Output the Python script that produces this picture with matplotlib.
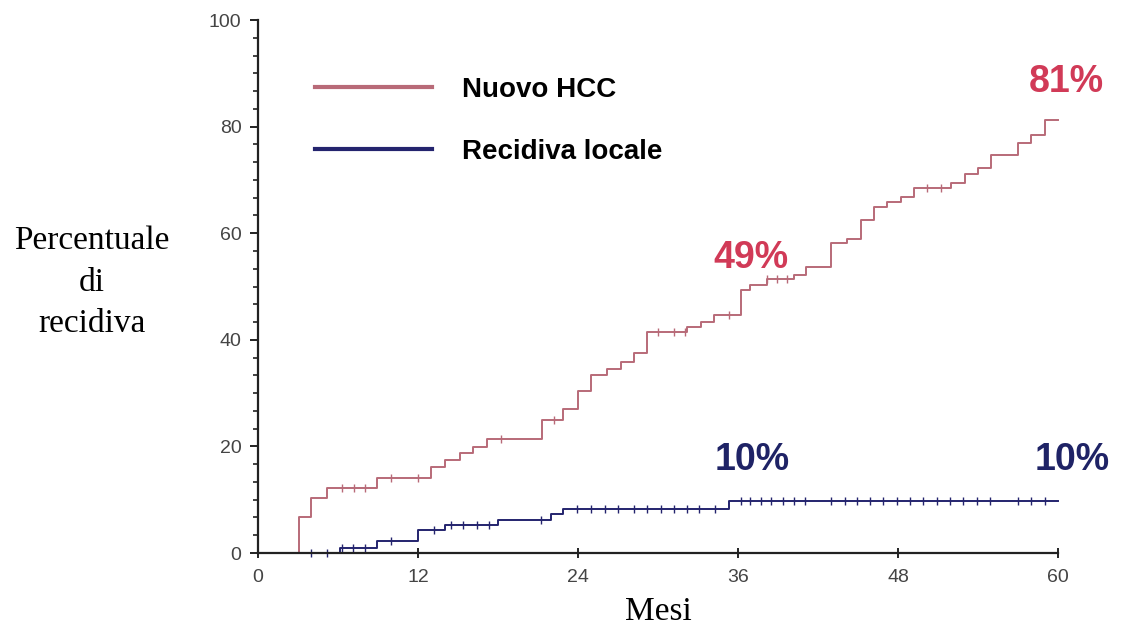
import numpy as np
import matplotlib
matplotlib.use("Agg")
import matplotlib.pyplot as plt
from matplotlib.lines import Line2D
from matplotlib.ticker import AutoMinorLocator

# ----- data (months, cumulative %) -----
nuovo_t = [0, 3.1, 4.0, 5.15, 8.9, 13.0, 14.0, 15.15, 16.15, 17.15, 21.3, 22.9,
           24.0, 25.0, 26.2, 27.2, 28.2, 29.2, 32.2, 33.2, 34.2, 36.2, 36.9,
           38.2, 40.2, 41.1, 43.0, 44.2, 45.2, 46.2, 47.2, 48.2, 49.2, 52.0,
           53.0, 54.0, 55.0, 57.0, 58.0, 59.0, 60.0]
nuovo_v = [0, 6.8, 10.3, 12.2, 14.0, 16.2, 17.4, 18.7, 19.9, 21.3, 25.0, 27.0,
           30.4, 33.4, 34.6, 35.9, 37.5, 41.5, 42.5, 43.4, 44.7, 49.3, 50.3,
           51.5, 52.2, 53.7, 58.1, 59.0, 62.5, 65.0, 65.9, 66.8, 68.4, 69.4,
           71.2, 72.2, 74.7, 76.9, 78.4, 81.2, 81.2]
nuovo_cens = [6.3, 7.2, 8.0, 10.0, 12.0, 18.2, 22.2, 30.0, 31.2, 32.0, 35.3,
              38.2, 38.9, 39.7, 50.2, 51.2]

locale_t = [0, 6.15, 8.9, 12.0, 14.0, 18.0, 22.0, 22.9, 35.3, 60.0]
locale_v = [0, 1.0, 2.25, 4.3, 5.25, 6.2, 7.4, 8.3, 9.8, 9.8]
locale_cens = [4.0, 5.15, 6.3, 7.15, 8.0, 10.0, 13.2, 14.5, 15.4, 16.4, 17.3,
               21.2, 23.9, 25.0, 26.0, 27.0, 28.2, 29.2, 30.2, 31.2, 32.2,
               33.1, 34.3, 36.2, 36.9, 37.7, 38.5, 39.4, 40.2, 41.0, 43.0,
               44.0, 44.9, 45.9, 46.9, 47.9, 48.9, 49.9, 50.9, 51.9, 52.9,
               53.9, 54.9, 57.0, 58.0, 59.0]

x_ticks = [0, 12, 24, 36, 48, 60]
y_ticks = [0, 20, 40, 60, 80, 100]

RED = "#b86a78"
BLUE = "#24246e"
RED_TXT = "#d13a57"
BLUE_TXT = "#1f2366"


def level_at(times, values, t):
    # value of a post-step curve at time t
    idx = np.searchsorted(times, t, side="right") - 1
    return np.asarray(values)[idx]


fig = plt.figure(figsize=(11.21, 6.27), dpi=100)
ax = fig.add_axes([0.2302, 0.118, 0.7136, 0.850])

ax.step(nuovo_t, nuovo_v, where="post", color=RED, lw=1.4, clip_on=False)
ax.step(locale_t, locale_v, where="post", color=BLUE, lw=1.4, clip_on=False)

# censoring marks
ax.plot(nuovo_cens, level_at(nuovo_t, nuovo_v, nuovo_cens), ls="none",
        marker="|", ms=6, mew=1.0, color=RED, clip_on=False)
ax.plot(locale_cens, level_at(locale_t, locale_v, locale_cens), ls="none",
        marker="|", ms=6, mew=1.0, color=BLUE, clip_on=False)

# percentage labels
pct_font = dict(fontsize=27, ha="center", va="baseline",
                family="Liberation Sans", weight="bold")
ax.text(37.0, 53.4, "49%", color=RED_TXT, **pct_font)
ax.text(60.6, 86.5, "81%", color=RED_TXT, **pct_font)
ax.text(37.1, 15.6, "10%", color=BLUE_TXT, **pct_font)
ax.text(61.1, 15.6, "10%", color=BLUE_TXT, **pct_font)

# axes styling
ax.set_xlim(0, 60)
ax.set_ylim(0, 100)
ax.set_xticks(x_ticks)
ax.set_yticks(y_ticks)
ax.yaxis.set_minor_locator(AutoMinorLocator(6))
for s in ["top", "right"]:
    ax.spines[s].set_visible(False)
for s in ["left", "bottom"]:
    ax.spines[s].set_linewidth(1.6)
    ax.spines[s].set_color("#222222")
ax.tick_params(axis="y", which="major", direction="out", length=6, width=1.4,
               pad=6, labelsize=14, labelcolor="#444444", color="#222222")
ax.tick_params(axis="y", which="minor", direction="out", length=3.5, width=1.2,
               color="#222222")
ax.tick_params(axis="x", which="major", direction="inout", length=7, width=1.4,
               pad=8, labelsize=14, labelcolor="#444444", color="#222222")
for lab in ax.get_xticklabels() + ax.get_yticklabels():
    lab.set_family("Liberation Sans")

ax.set_xlabel("Mesi", fontsize=24, family="Liberation Serif", va="baseline")
ax.xaxis.set_label_coords(0.5, -0.125)
ax.set_ylabel("Percentuale\ndi\nrecidiva", fontsize=24, family="Liberation Serif",
              rotation=0, ha="center", va="center", linespacing=1.45)
ax.yaxis.set_label_coords(-0.208, 0.508)

handles = [Line2D([], [], color=RED, lw=3),
           Line2D([], [], color=BLUE, lw=3)]
ax.legend(handles, ["Nuovo HCC", "Recidiva locale"], loc="upper left",
          bbox_to_anchor=(0.04, 0.94), frameon=False, handlelength=4.2,
          handletextpad=1.1, labelspacing=1.3,
          prop={"family": "Liberation Sans", "weight": "bold", "size": 20})

fig.savefig("out.png", dpi=100)
